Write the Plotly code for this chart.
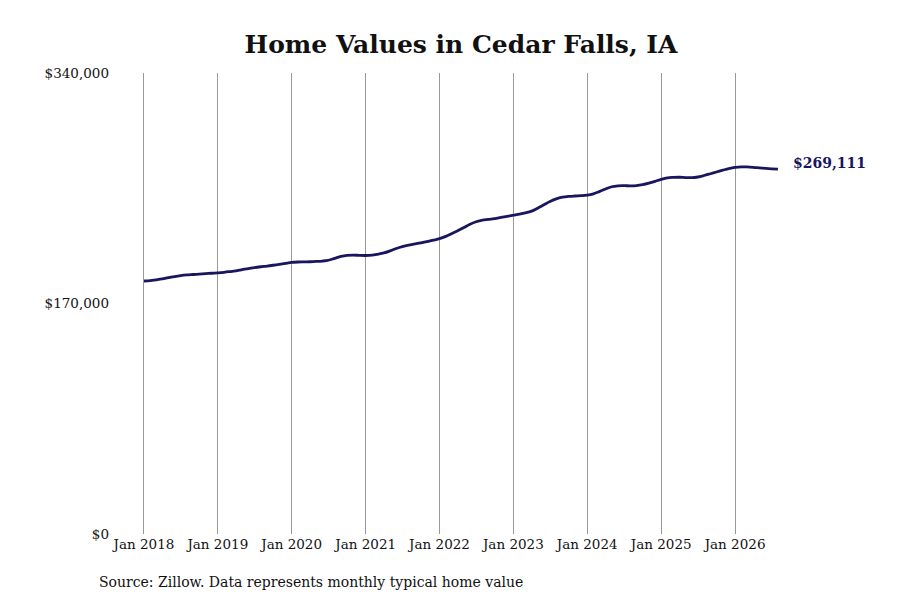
"""
Cedar Falls, IA typical home value (Zillow), monthly, Jan 2018 - Aug 2026.
"""

import pandas as pd
import plotly.graph_objects as go

TITLE = "Home Values in Cedar Falls, IA"
SOURCE = "Source: Zillow. Data represents monthly typical home value"

months = pd.date_range("2018-01-01", "2026-08-01", freq="MS")

# monthly typical home values (USD)
values_2018 = [186600, 186800, 187400, 188100, 189000, 189900, 190600, 191100, 191400, 191700, 192000, 192300]
values_2019 = [192600, 193000, 193500, 194100, 194900, 195800, 196500, 197100, 197600, 198200, 198900, 199600]
values_2020 = [200300, 200600, 200700, 200800, 201000, 201300, 201900, 203300, 204700, 205500, 205700, 205500]
values_2021 = [205400, 205600, 206300, 207300, 208800, 210600, 212000, 213100, 213900, 214700, 215700, 216700]
values_2022 = [217800, 219500, 221500, 223600, 226000, 228500, 230300, 231500, 232000, 232600, 233500, 234300]
values_2023 = [235100, 235900, 236800, 238100, 240300, 242800, 245200, 247200, 248400, 249000, 249300, 249500]
values_2024 = [249900, 250900, 252500, 254500, 256100, 256800, 256900, 256800, 257000, 257700, 258800, 260100]
values_2025 = [261600, 262700, 263000, 263100, 262900, 262800, 263300, 264400, 265700, 267000, 268300, 269500]
values_2026 = [270400, 270800, 270700, 270400, 270000, 269600, 269300, 269111]

values = (values_2018 + values_2019 + values_2020 + values_2021 + values_2022
          + values_2023 + values_2024 + values_2025 + values_2026)

y_ticks = [0, 170000, 340000]

LINE_COLOR = "#17165f"
FONT = "DejaVu Serif"

# the page puts the figure 8px in from the top-left corner
W, H = 900, 600
M_L, M_R, M_T, M_B = 102, 108, 65, 74

fig = go.Figure()

fig.add_trace(go.Scatter(
    x=months,
    y=values,
    mode="lines",
    line=dict(color=LINE_COLOR, width=2.8, shape="spline", smoothing=1),
    showlegend=False,
    hovertemplate="%{x|%b %Y}<br>$%{y:,.0f}<extra></extra>",
))

# last value label
fig.add_annotation(
    x=months[-1],
    y=values[-1],
    text=f"<b>${values[-1]:,}</b>",
    showarrow=False,
    xanchor="left",
    yanchor="middle",
    xshift=13,
    yshift=6,
    font=dict(family=FONT, size=14, color=LINE_COLOR),
)

# source note, placed in figure pixels
plot_w = W - M_L - M_R
plot_h = H - M_T - M_B
fig.add_annotation(
    x=(89 - M_L) / plot_w,
    y=(H - M_B - 574) / plot_h,
    xref="paper",
    yref="paper",
    text=SOURCE,
    showarrow=False,
    xanchor="left",
    yanchor="middle",
    font=dict(family=FONT, size=14, color="#111111"),
)

fig.update_layout(
    width=W,
    height=H,
    margin=dict(l=M_L, r=M_R, t=M_T, b=M_B),
    paper_bgcolor="white",
    plot_bgcolor="white",
    font=dict(family=FONT, size=13.5, color="#111111"),
    title=dict(
        text=f"<b>{TITLE}</b>",
        x=(M_L + plot_w / 2 + 6) / W,
        xanchor="center",
        y=1 - 36 / H,
        yanchor="middle",
        font=dict(family=FONT, size=25, color="#111111"),
    ),
    xaxis=dict(
        range=["2017-07-17", "2026-11-18"],
        tick0="2018-01-01",
        dtick="M12",
        tickformat="%b %Y",
        showgrid=True,
        gridcolor="#999999",
        gridwidth=1,
        showline=False,
        zeroline=False,
        ticks="",
    ),
    yaxis=dict(
        range=[0, 340000],
        tickvals=y_ticks,
        tickformat="$,",
        showgrid=False,
        zeroline=False,
        showline=False,
        ticks="",
    ),
)

fig.write_html("out.html")
